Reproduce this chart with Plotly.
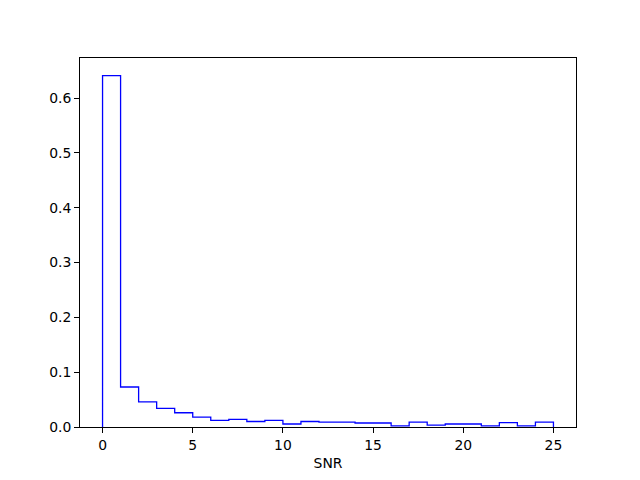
import plotly.graph_objects as go

bin_edges = list(range(0, 26))
densities = [0.641, 0.073, 0.046, 0.034, 0.026, 0.018, 0.012, 0.014, 0.010, 0.012,
             0.0055, 0.010, 0.009, 0.009, 0.0073, 0.0073, 0.002, 0.009, 0.0036, 0.0055,
             0.0055, 0.002, 0.008, 0.002, 0.009]
x_ticks = [0, 5, 10, 15, 20, 25]
y_ticks = [0.0, 0.1, 0.2, 0.3, 0.4, 0.5, 0.6]

xs = [bin_edges[0]] + bin_edges[:-1] + [bin_edges[-1]]
ys = [0] + densities + [0]

fig = go.Figure(go.Scatter(x=xs, y=ys, mode="lines", line=dict(color="blue", width=1.3, shape="hv"),
                           hoverinfo="skip", showlegend=False))

axis_common = dict(showgrid=False, zeroline=False, showline=True, linecolor="black", linewidth=1,
                   mirror=True, ticks="outside", ticklen=5, tickwidth=1, tickcolor="black",
                   automargin=False,
                   tickfont=dict(family="DejaVu Sans", size=13.9, color="black"))
ymax = max(densities)
fig.update_xaxes(range=[-1.25, 26.25], tickvals=x_ticks, title=dict(text="SNR", standoff=6,
                 font=dict(family="DejaVu Sans", size=13.9, color="black")), **axis_common)
fig.update_yaxes(range=[0, ymax * 1.05], tickvals=y_ticks, tickformat=".1f", **axis_common)
fig.update_layout(width=624, height=464, margin=dict(l=72, r=56, t=50, b=45),
                  paper_bgcolor="white", plot_bgcolor="white")
fig.write_html("out.html")
